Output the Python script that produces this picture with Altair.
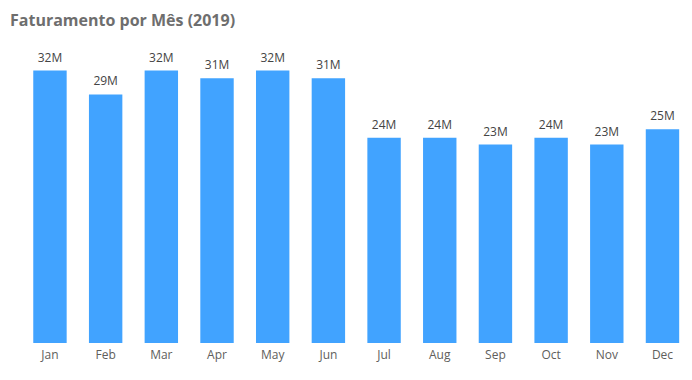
import altair as alt
import pandas as pd

months = ["Jan", "Feb", "Mar", "Apr", "May", "Jun", "Jul", "Aug", "Sep", "Oct", "Nov", "Dec"]
revenue_m = [32.0, 29.2, 32.0, 31.1, 32.0, 31.1, 24.1, 24.1, 23.3, 24.1, 23.3, 25.1]

df = pd.DataFrame({"month": months, "revenue": revenue_m})

FONT = "Open Sans"

x = alt.X(
    "month:N",
    sort=months,
    title=None,
    scale=alt.Scale(paddingInner=0.4, paddingOuter=0.27, align=0.84),
    axis=alt.Axis(
        labelFont=FONT, labelFontSize=12, labelColor="#605E5C",
        ticks=False, domain=False, labelPadding=6, labelAngle=0, grid=False,
    ),
)
y = alt.Y(
    "revenue:Q",
    title=None,
    scale=alt.Scale(domain=[0, 35], nice=False),
    axis=None,
)

bars = alt.Chart(df).mark_bar(color="#41A3FF").encode(x=x, y=y)
labels = alt.Chart(df).mark_text(
    font=FONT, fontSize=12, color="#444444", baseline="bottom", dy=-6
).transform_calculate(
    lbl="format(datum.revenue, '.0f') + 'M'"
).encode(x=x, y=y, text="lbl:N")

chart = alt.layer(bars, labels).properties(
    width=676,
    height=298,
    padding={"left": 0, "top": 37, "right": 0, "bottom": 30},
    autosize=alt.AutoSizeParams(type="none"),
    title=alt.TitleParams(
        "Faturamento por Mês (2019)",
        anchor="start", font=FONT, fontSize=16, fontWeight="bold",
        color="#6E6E6E", offset=16, dx=2,
    ),
).configure_view(stroke=None)

chart.save("out.html", embed_options={"renderer": "svg", "actions": False})
